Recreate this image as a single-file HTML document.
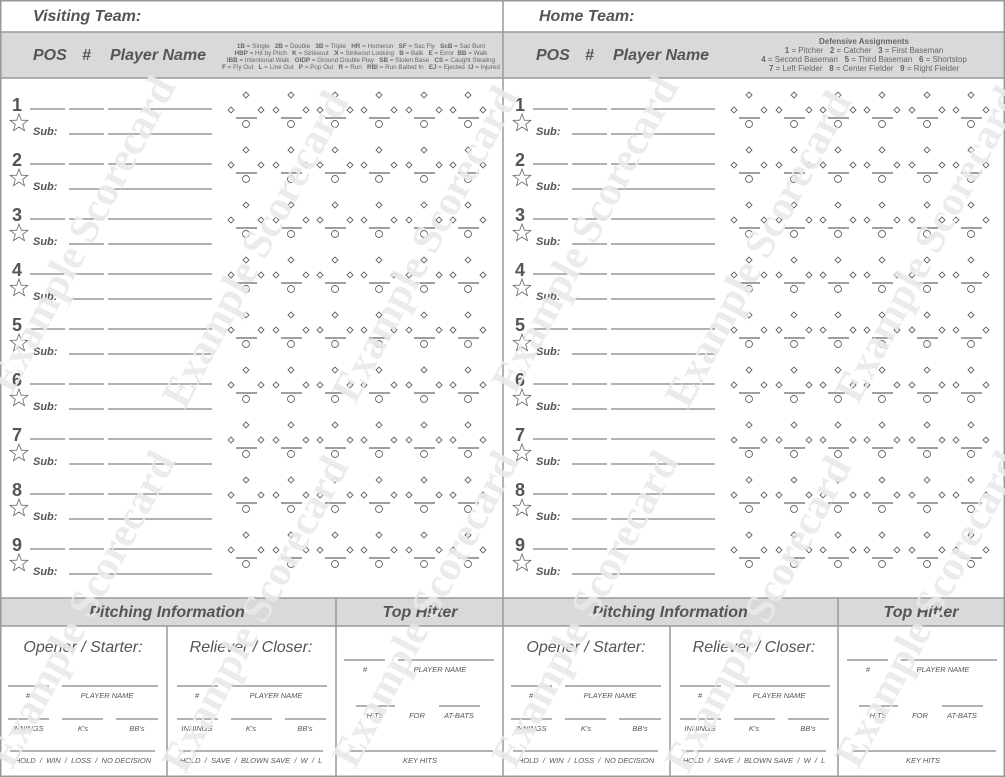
<!DOCTYPE html>
<html><head><meta charset="utf-8"><style>
html,body{margin:0;padding:0;background:#fff}
svg{display:block}
text{font-family:"Liberation Sans",sans-serif;fill:#555;white-space:pre}
.h{font-weight:bold;font-style:italic;font-size:16px}
.n{font-weight:bold;font-size:18px}
.s{font-weight:bold;font-style:italic;font-size:11px}
.lg{font-size:6.3px;text-anchor:middle;fill:#666}
.l{font-style:italic;font-size:7.5px;text-anchor:middle;fill:#555}
.wm{font-family:"Liberation Serif",serif;font-weight:bold;font-size:42px;fill:#e9e9e9;opacity:.9}
</style></head><body>
<svg width="1005" height="777" viewBox="0 0 1005 777" xmlns="http://www.w3.org/2000/svg" xml:space="preserve">
<defs>
<g id="ab" fill="none" stroke="#666" stroke-width="0.9">
<path d="M0,92 l3,3 -3,3 -3,-3z"/>
<path d="M-15,107 l3,3 -3,3 -3,-3z"/>
<path d="M15,107 l3,3 -3,3 -3,-3z"/>
<line x1="-10" y1="118" x2="11" y2="118" stroke-width="1.2"/>
<circle cx="0" cy="124" r="3.5"/>
</g>
<g id="row6">
<use href="#ab" x="246"/><use href="#ab" x="291"/><use href="#ab" x="335"/><use href="#ab" x="379"/><use href="#ab" x="424"/><use href="#ab" x="468"/>
</g>
<g id="pl" stroke="#666" stroke-width="1">
<line x1="30" y1="109" x2="65" y2="109"/><line x1="69" y1="109" x2="104" y2="109"/><line x1="108" y1="109" x2="212" y2="109"/>
<line x1="69" y1="134" x2="104" y2="134"/><line x1="108" y1="134" x2="212" y2="134"/>
<path d="M19,114 l2.3,6.2 6.5,0.2 -5.1,4 1.8,6.3 -5.5,-3.7 -5.5,3.7 1.8,-6.3 -5.1,-4 6.5,-0.2z" fill="none" stroke-width="0.8"/>
<use href="#row6"/>
</g>
<g id="half">
<use href="#pl" y="0"/><use href="#pl" y="55"/><use href="#pl" y="110"/><use href="#pl" y="165"/><use href="#pl" y="220"/><use href="#pl" y="275"/><use href="#pl" y="330"/><use href="#pl" y="385"/><use href="#pl" y="440"/>
</g>
</defs>
<rect x="0" y="32" width="1005" height="46" fill="#d9d9d9"/>
<rect x="0" y="598" width="1005" height="28" fill="#d9d9d9"/>
<g stroke="#999" stroke-width="1.5" fill="none">
<rect x="0.75" y="0.75" width="1003.5" height="775.5"/>
<line x1="503" y1="0" x2="503" y2="777"/>
<line x1="0" y1="32" x2="1005" y2="32"/><line x1="0" y1="78" x2="1005" y2="78"/>
<line x1="0" y1="598" x2="1005" y2="598"/><line x1="0" y1="626" x2="1005" y2="626"/>
<line x1="167" y1="626" x2="167" y2="777"/><line x1="336" y1="598" x2="336" y2="777"/>
<line x1="670" y1="626" x2="670" y2="777"/><line x1="838" y1="598" x2="838" y2="777"/>
</g>
<use href="#half"/><use href="#half" x="503"/>

<text class="h" x="33" y="21">Visiting Team:</text>
<text class="h" x="539" y="21">Home Team:</text>
<text class="h" x="33" y="60">POS</text><text class="h" x="82" y="60">#</text><text class="h" x="110" y="60">Player Name</text>
<text class="h" x="536" y="60">POS</text><text class="h" x="585" y="60">#</text><text class="h" x="613" y="60">Player Name</text>
<text class="lg" x="361" y="48"><tspan font-weight="bold">1B</tspan> = Single   <tspan font-weight="bold">2B</tspan> = Double   <tspan font-weight="bold">3B</tspan> = Triple   <tspan font-weight="bold">HR</tspan> = Homerun   <tspan font-weight="bold">SF</tspan> = Sac Fly   <tspan font-weight="bold">ScB</tspan> = Sac Bunt</text>
<text class="lg" x="361" y="55"><tspan font-weight="bold">HBP</tspan> = Hit by Pitch   <tspan font-weight="bold">K</tspan> = Strikeout   <tspan font-weight="bold">ꓘ</tspan> = Strikeout Looking   <tspan font-weight="bold">B</tspan> = Balk   <tspan font-weight="bold">E</tspan> = Error  <tspan font-weight="bold">BB</tspan> = Walk</text>
<text class="lg" x="361" y="62"><tspan font-weight="bold">IBB</tspan> = Intentional Walk   <tspan font-weight="bold">GIDP</tspan> = Ground Double Play   <tspan font-weight="bold">SB</tspan> = Stolen Base   <tspan font-weight="bold">CS</tspan> = Caught Stealing</text>
<text class="lg" x="361" y="69"><tspan font-weight="bold">F</tspan> = Fly Out   <tspan font-weight="bold">L</tspan> = Line Out   <tspan font-weight="bold">P</tspan> = Pop Out   <tspan font-weight="bold">R</tspan> = Run   <tspan font-weight="bold">RBI</tspan> = Run Batted In   <tspan font-weight="bold">EJ</tspan> = Ejected  <tspan font-weight="bold">IJ</tspan> = Injured</text>
<text class="lg" style="font-size:8px;font-weight:bold" x="864" y="44">Defensive Assignments</text>
<text class="lg" style="font-size:8px" x="864" y="53"><tspan font-weight="bold">1</tspan> = Pitcher   <tspan font-weight="bold">2</tspan> = Catcher   <tspan font-weight="bold">3</tspan> = First Baseman</text>
<text class="lg" style="font-size:8px" x="864" y="62"><tspan font-weight="bold">4</tspan> = Second Baseman   <tspan font-weight="bold">5</tspan> = Third Baseman   <tspan font-weight="bold">6</tspan> = Shortstop</text>
<text class="lg" style="font-size:8px" x="864" y="71"><tspan font-weight="bold">7</tspan> = Left Fielder   <tspan font-weight="bold">8</tspan> = Center Fielder   <tspan font-weight="bold">9</tspan> = Right Fielder</text>

<text class="n" x="12" y="111">1</text><text class="n" x="12" y="166">2</text><text class="n" x="12" y="221">3</text><text class="n" x="12" y="276">4</text><text class="n" x="12" y="331">5</text><text class="n" x="12" y="386">6</text><text class="n" x="12" y="441">7</text><text class="n" x="12" y="496">8</text><text class="n" x="12" y="551">9</text>
<text class="n" x="515" y="111">1</text><text class="n" x="515" y="166">2</text><text class="n" x="515" y="221">3</text><text class="n" x="515" y="276">4</text><text class="n" x="515" y="331">5</text><text class="n" x="515" y="386">6</text><text class="n" x="515" y="441">7</text><text class="n" x="515" y="496">8</text><text class="n" x="515" y="551">9</text>
<text class="s" x="33" y="135">Sub:</text><text class="s" x="33" y="190">Sub:</text><text class="s" x="33" y="245">Sub:</text><text class="s" x="33" y="300">Sub:</text><text class="s" x="33" y="355">Sub:</text><text class="s" x="33" y="410">Sub:</text><text class="s" x="33" y="465">Sub:</text><text class="s" x="33" y="520">Sub:</text><text class="s" x="33" y="575">Sub:</text>
<text class="s" x="536" y="135">Sub:</text><text class="s" x="536" y="190">Sub:</text><text class="s" x="536" y="245">Sub:</text><text class="s" x="536" y="300">Sub:</text><text class="s" x="536" y="355">Sub:</text><text class="s" x="536" y="410">Sub:</text><text class="s" x="536" y="465">Sub:</text><text class="s" x="536" y="520">Sub:</text><text class="s" x="536" y="575">Sub:</text>

<g id="bot">
<g stroke="#666" stroke-width="1">
<line x1="8" y1="686" x2="49" y2="686"/><line x1="62" y1="686" x2="158" y2="686"/>
<line x1="8" y1="719" x2="49" y2="719"/><line x1="62" y1="719" x2="103" y2="719"/><line x1="116" y1="719" x2="158" y2="719"/>
<line x1="10" y1="751" x2="155" y2="751"/>
<line x1="177" y1="686" x2="218" y2="686"/><line x1="231" y1="686" x2="327" y2="686"/>
<line x1="177" y1="719" x2="218" y2="719"/><line x1="231" y1="719" x2="272" y2="719"/><line x1="285" y1="719" x2="326" y2="719"/>
<line x1="179" y1="751" x2="323" y2="751"/>
<line x1="344" y1="660" x2="385" y2="660"/><line x1="398" y1="660" x2="494" y2="660"/>
<line x1="356" y1="706" x2="395" y2="706"/><line x1="439" y1="706" x2="480" y2="706"/>
<line x1="349" y1="751" x2="493" y2="751"/>
</g>
</g>
<use href="#bot" x="503"/>
<text class="h" x="167" y="617" text-anchor="middle">Pitching Information</text>
<text class="h" x="420" y="617" text-anchor="middle">Top Hitter</text>
<text class="h" x="670" y="617" text-anchor="middle">Pitching Information</text>
<text class="h" x="921" y="617" text-anchor="middle">Top Hitter</text>
<text x="83" y="652" text-anchor="middle" style="font-style:italic;font-size:16px">Opener / Starter:</text>
<text x="251" y="652" text-anchor="middle" style="font-style:italic;font-size:16px">Reliever / Closer:</text>
<text x="586" y="652" text-anchor="middle" style="font-style:italic;font-size:16px">Opener / Starter:</text>
<text x="754" y="652" text-anchor="middle" style="font-style:italic;font-size:16px">Reliever / Closer:</text>
<text class="l" x="28" y="698">#</text><text class="l" x="107" y="698">PLAYER NAME</text>
<text class="l" x="28" y="731">INNINGS</text><text class="l" x="83" y="731">K's</text><text class="l" x="137" y="731">BB's</text>
<text class="l" x="83" y="763">HOLD  /  WIN  /  LOSS  /  NO DECISION</text>
<text class="l" x="197" y="698">#</text><text class="l" x="276" y="698">PLAYER NAME</text>
<text class="l" x="197" y="731">INNINGS</text><text class="l" x="251" y="731">K's</text><text class="l" x="305" y="731">BB's</text>
<text class="l" x="251" y="763">HOLD  /  SAVE  /  BLOWN SAVE  /  W  /  L</text>
<text class="l" x="365" y="672">#</text><text class="l" x="440" y="672">PLAYER NAME</text>
<text class="l" x="375" y="718">HITS</text><text class="l" x="417" y="718">FOR</text><text class="l" x="459" y="718">AT-BATS</text>
<text class="l" x="420" y="763">KEY HITS</text>
<text class="l" x="531" y="698">#</text><text class="l" x="610" y="698">PLAYER NAME</text>
<text class="l" x="531" y="731">INNINGS</text><text class="l" x="586" y="731">K's</text><text class="l" x="640" y="731">BB's</text>
<text class="l" x="586" y="763">HOLD  /  WIN  /  LOSS  /  NO DECISION</text>
<text class="l" x="700" y="698">#</text><text class="l" x="779" y="698">PLAYER NAME</text>
<text class="l" x="700" y="731">INNINGS</text><text class="l" x="754" y="731">K's</text><text class="l" x="808" y="731">BB's</text>
<text class="l" x="754" y="763">HOLD  /  SAVE  /  BLOWN SAVE  /  W  /  L</text>
<text class="l" x="868" y="672">#</text><text class="l" x="943" y="672">PLAYER NAME</text>
<text class="l" x="878" y="718">HITS</text><text class="l" x="920" y="718">FOR</text><text class="l" x="962" y="718">AT-BATS</text>
<text class="l" x="923" y="763">KEY HITS</text>

<g>
<text class="wm" transform="translate(12,395) rotate(-62)" textLength="350">Example Scorecard</text>
<text class="wm" transform="translate(185,410) rotate(-62)" textLength="350">Example Scorecard</text>
<text class="wm" transform="translate(355,405) rotate(-62)" textLength="350">Example Scorecard</text>
<text class="wm" transform="translate(12,770) rotate(-62)" textLength="350">Example Scorecard</text>
<text class="wm" transform="translate(185,775) rotate(-62)" textLength="350">Example Scorecard</text>
<text class="wm" transform="translate(355,770) rotate(-62)" textLength="350">Example Scorecard</text>
<text class="wm" transform="translate(515,395) rotate(-62)" textLength="350">Example Scorecard</text>
<text class="wm" transform="translate(688,410) rotate(-62)" textLength="350">Example Scorecard</text>
<text class="wm" transform="translate(858,405) rotate(-62)" textLength="350">Example Scorecard</text>
<text class="wm" transform="translate(515,770) rotate(-62)" textLength="350">Example Scorecard</text>
<text class="wm" transform="translate(688,775) rotate(-62)" textLength="350">Example Scorecard</text>
<text class="wm" transform="translate(858,770) rotate(-62)" textLength="350">Example Scorecard</text>
</g>
</svg>
</body></html>
